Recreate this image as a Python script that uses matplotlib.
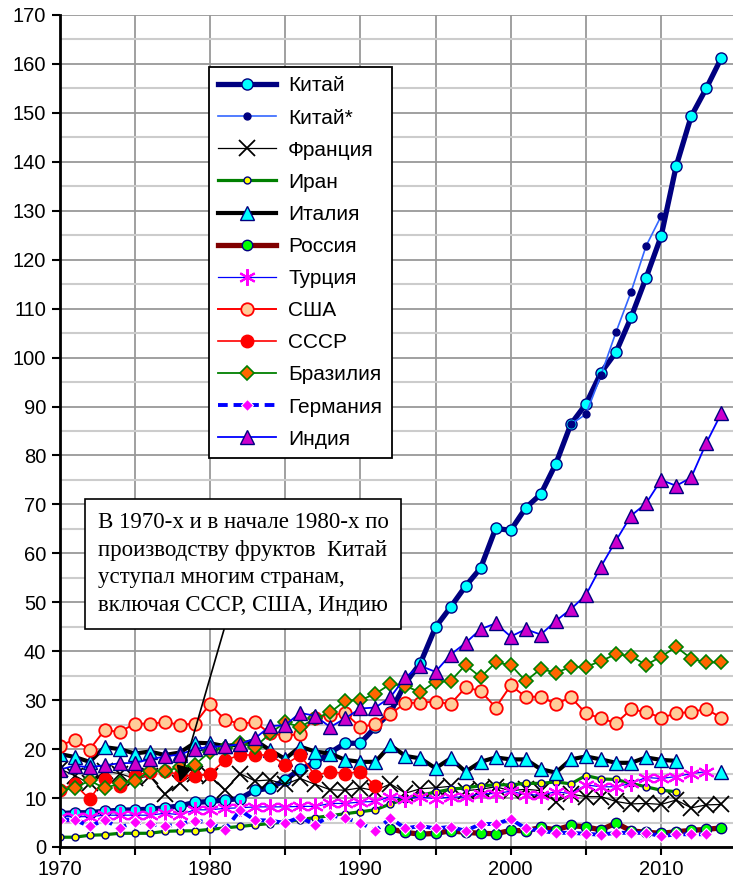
import numpy as np
import matplotlib.pyplot as plt
from matplotlib.ticker import MultipleLocator

plt.rcParams['font.family'] = ['Liberation Sans', 'DejaVu Sans']

nan = np.nan
years = list(range(1970, 2015))

china = [6.8, 7.0, 7.0, 7.3, 7.5, 7.6, 7.7, 8.0, 8.4, 9.1,
         9.3, 9.6, 9.9, 11.6, 12.0, 13.7, 15.9, 17.2, 19.3, 21.2,
         21.2, 24.5, 27.5, 33.5, 37.6, 44.9, 49.0, 53.3, 57.0, 65.1,
         64.7, 69.3, 72.1, 78.3, 86.4, 90.5, 96.9, 101.1, 108.2, 116.3,
         124.8, 139.1, 149.3, 155.0, 161.2]
china2_years = [2004, 2005, 2006, 2007, 2008, 2009, 2010]
china2 = [86.4, 88.4, 96.4, 105.2, 113.4, 122.8, 128.9]
france = [16.0, 14.6, 13.0, 15.5, 15.0, 14.0, 14.5, 10.8, 13.0, 15.0,
          14.5, 11.6, 15.0, 13.5, 13.7, 12.8, 14.0, 12.8, 11.7, 11.6,
          12.1, 11.5, 12.9, 11.0, 11.9, 12.1, 12.4, 11.5, 11.8, 12.3,
          11.5, 11.8, 11.5, 9.2, 10.8, 10.3, 10.3, 9.3, 8.8, 8.9,
          8.7, 9.6, 8.0, 8.6, 8.7]
iran = [2.0, 2.0, 2.4, 2.5, 2.8, 2.8, 2.8, 3.2, 3.3, 3.3,
        3.6, 3.9, 4.2, 4.5, 4.8, 5.1, 5.6, 6.0, 6.4, 6.8,
        7.2, 7.6, 8.8, 9.8, 10.6, 11.2, 11.8, 12.1, 12.5, 12.7,
        12.7, 13.0, 13.0, 13.3, 12.9, 14.6, 13.9, 13.8, 13.0, 12.3,
        11.6, 11.3, nan, nan, nan]
italy = [19.0, 18.4, 17.4, 20.4, 20.0, 19.1, 19.5, 18.8, 19.3, 21.3,
         21.2, 20.6, 21.0, 21.8, 19.8, 18.0, 20.5, 19.5, 19.1, 17.8,
         17.4, 17.4, 20.8, 18.6, 18.1, 16.1, 18.1, 15.4, 17.4, 18.3,
         17.9, 17.9, 15.9, 15.2, 17.9, 18.5, 17.9, 17.2, 17.2, 18.3,
         17.8, 17.6, nan, nan, 15.4]
russia_years = list(range(1992, 2015))
russia = [3.7, 3.0, 2.6, 2.8, 3.3, 3.0, 2.8, 2.7, 3.4, 3.3, 4.0, 3.5,
          4.4, 4.1, 3.5, 4.9, 3.3, 3.0, 2.8, 3.1, 3.4, 3.6, 3.9]
turkey = [6.2, 6.2, 6.2, 6.5, 6.5, 6.5, 6.5, 6.9, 6.6, 7.6,
          7.6, 7.9, 8.0, 8.2, 8.2, 8.2, 8.3, 8.3, 8.9, 8.9,
          9.2, 9.3, 10.3, 9.9, 10.2, 9.9, 10.2, 10.2, 10.9, 10.9,
          11.4, 10.7, 10.6, 11.3, 10.9, 12.7, 12.3, 12.3, 13.0, 14.2,
          14.0, 14.4, 15.0, 15.4, nan]
usa = [20.7, 21.9, 19.9, 23.9, 23.5, 25.2, 25.2, 25.5, 25.0, 25.2,
       29.2, 26.0, 25.2, 25.5, 23.2, 22.8, 23.0, 26.4, 27.0, 27.3,
       24.5, 25.1, 27.2, 29.4, 29.5, 29.7, 29.2, 32.6, 31.9, 28.5,
       33.0, 30.7, 30.7, 29.2, 30.6, 27.3, 26.3, 25.3, 28.1, 27.6,
       26.4, 27.3, 27.6, 28.2, 26.4]
ussr_years = list(range(1970, 1992))
ussr = [11.7, 12.8, 9.8, 13.9, 12.4, 14.5, 15.4, 15.6, 14.7, 14.5,
        15.0, 17.7, 18.8, 18.8, 18.8, 16.8, 18.8, 14.6, 15.4, 15.0,
        15.4, 12.5]
brazil = [11.6, 12.0, 13.6, 12.0, 13.0, 13.5, 15.5, 15.5, 16.3, 16.8,
          19.5, 20.2, 21.2, 20.4, 23.2, 25.5, 24.5, 26.3, 27.5, 29.9,
          30.0, 31.3, 33.3, 32.9, 31.6, 33.8, 33.9, 37.2, 34.7, 37.7,
          37.2, 33.9, 36.4, 35.6, 36.8, 36.8, 38.0, 39.4, 39.0, 37.2,
          38.9, 40.9, 38.5, 37.7, 37.7]
germany = [5.5, 5.6, 4.2, 5.5, 3.9, 5.1, 4.7, 4.2, 4.7, 5.4,
           5.0, 3.5, 7.5, 5.5, 5.4, 4.9, 6.1, 4.5, 6.5, 5.9,
           5.0, 3.3, 5.9, 3.8, 4.3, 3.8, 4.1, 3.3, 4.7, 4.7,
           5.7, 3.8, 3.3, 2.9, 2.9, 2.7, 2.5, 2.9, 2.9, 2.9,
           2.2, 2.6, 2.6, 2.6, nan]
india = [15.8, 16.6, 16.3, 16.7, 17.1, 17.2, 17.9, 18.5, 18.9, 20.0,
         20.5, 20.6, 21.0, 22.2, 24.7, 24.9, 27.4, 26.8, 24.5, 26.3,
         28.3, 28.5, 30.6, 34.7, 37.0, 35.8, 39.3, 41.7, 44.5, 45.7,
         43.0, 44.5, 43.4, 46.2, 48.6, 51.5, 57.3, 62.6, 67.7, 70.2,
         75.0, 73.8, 75.5, 82.5, 88.6]

note = ('В 1970-х и в начале 1980-х по\n'
        'производству фруктов  Китай\n'
        'уступал многим странам,\n'
        'включая СССР, США, Индию')

fig = plt.figure(figsize=(7.33, 8.82), dpi=100)
ax = fig.add_axes([59.5 / 733, 35 / 882, 673.5 / 733, 832 / 882])

ax.plot(years, china, color='#000080', lw=3.8, marker='o', ms=8,
        mfc='#00FFFF', mec='#000080', mew=1.0, label='Китай')
ax.plot(china2_years, china2, color='#3366FF', lw=1.2, marker='o', ms=5,
        mfc='#000080', mec='#000080', label='Китай*')
ax.plot(years, france, color='black', lw=0.9, marker='x', ms=11,
        mec='black', mew=1.3, label='Франция')
ax.plot(years, iran, color='#008000', lw=2.3, marker='o', ms=5,
        mfc='#FFFF00', mec='#000080', mew=1.0, label='Иран')
ax.plot(years, italy, color='black', lw=3.0, marker='^', ms=10,
        mfc='#00FFFF', mec='#000080', mew=1.0, label='Италия')
ax.plot(russia_years, russia, color='#800000', lw=3.8, marker='o', ms=7.5,
        mfc='#00FF00', mec='#000080', mew=1.0, label='Россия')
ax.plot(years, turkey, color='#0000FF', lw=0.9, marker=(6, 2, 0), ms=12,
        mec='#FF00FF', mew=1.5, label='Турция')
ax.plot(years, usa, color='#FF0000', lw=1.4, marker='o', ms=9,
        mfc='#FFCC99', mec='#FF0000', mew=1.3, label='США')
ax.plot(ussr_years, ussr, color='#FF0000', lw=1.2, marker='o', ms=9,
        mfc='#FF0000', mec='#FF0000', label='СССР')
ax.plot(years, brazil, color='#008000', lw=1.3, marker='D', ms=7,
        mfc='#FF6600', mec='#008000', mew=1.2, label='Бразилия')
ax.plot(years, germany, color='#0000FF', lw=2.8, ls=(0, (2.5, 1.5)), marker='D', ms=6,
        mfc='#FF00FF', mec='white', mew=0.8, label='Германия')
ax.plot(years, india, color='#0000FF', lw=1.3, marker='^', ms=10,
        mfc='#CC00CC', mec='#000080', mew=1.0, label='Индия')

ax.set_xlim(1970, 2014.78)
ax.set_ylim(0, 170)
ax.set_yticks(range(0, 171, 10))
ax.yaxis.set_minor_locator(MultipleLocator(5))
ax.xaxis.set_major_locator(MultipleLocator(10))
ax.xaxis.set_minor_locator(MultipleLocator(5))
ax.tick_params(axis='both', which='major', labelsize=14.5, length=6, width=1.5, direction='out')
ax.tick_params(axis='x', which='minor', length=6, width=1.5, direction='out')
ax.tick_params(axis='y', which='minor', length=0)

ax.grid(axis='x', which='both', color='#999999', lw=1.3)
ax.grid(axis='y', which='major', color='#999999', lw=1.3)
ax.grid(axis='y', which='minor', color='#CCCCCC', lw=1.5)
ax.set_axisbelow(True)
for side in ('top', 'right'):
    ax.spines[side].set_visible(False)
for side in ('left', 'bottom'):
    ax.spines[side].set_linewidth(2)
    ax.spines[side].set_zorder(5)

ax.annotate(note, xy=(1978, 13.3), xytext=(1982.2, 57.8),
            ha='center', va='center', multialignment='left',
            family=['Liberation Serif'], fontsize=16.5, linespacing=1.42,
            bbox=dict(boxstyle='square,pad=0.55', fc='white', ec='black', lw=1.2),
            arrowprops=dict(arrowstyle='-|>', color='black', lw=1.2,
                            mutation_scale=24, shrinkA=0, shrinkB=0),
            zorder=10)

leg = ax.legend(loc='upper left', bbox_to_anchor=(0.222, 0.9375), borderaxespad=0,
                fontsize=15, labelspacing=0.63, handlelength=2.75, handletextpad=0.6,
                fancybox=False, framealpha=1, edgecolor='black', borderpad=0.45)
leg.get_frame().set_linewidth(1.3)
leg.set_zorder(11)

fig.savefig('out.png', dpi=100)
